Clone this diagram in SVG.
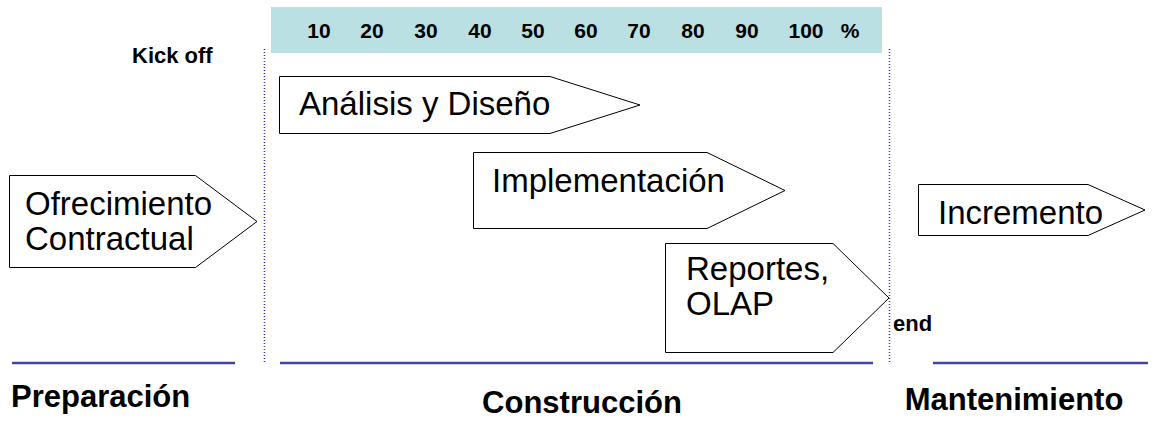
<svg xmlns="http://www.w3.org/2000/svg" width="1159" height="421" viewBox="0 0 1159 421">
<style>
.shape{fill:#ffffff;stroke:#000000;stroke-width:1}
.big{font-family:"Liberation Sans",Arial,sans-serif;font-size:33px;fill:#000}
.num{font-family:"Liberation Sans",Arial,sans-serif;font-size:21px;font-weight:bold;fill:#000;text-anchor:middle}
.small{font-family:"Liberation Sans",Arial,sans-serif;font-size:22px;font-weight:bold;fill:#000}
.phase{font-family:"Liberation Sans",Arial,sans-serif;font-size:31px;font-weight:bold;fill:#000}
.dot{stroke:#3a3ab8;stroke-width:1.5;stroke-dasharray:1 2;fill:none}
.rule{stroke:#4343a3;stroke-width:2.5;fill:none}
</style>
<rect width="1159" height="421" fill="#ffffff"/>
<g id="scale">
<rect x="271" y="7" width="611" height="46" fill="#bae0e3"/>
<text class="num" x="319" y="38">10</text>
<text class="num" x="372" y="38">20</text>
<text class="num" x="426" y="38">30</text>
<text class="num" x="480" y="38">40</text>
<text class="num" x="533" y="38">50</text>
<text class="num" x="586" y="38">60</text>
<text class="num" x="639" y="38">70</text>
<text class="num" x="693" y="38">80</text>
<text class="num" x="747" y="38">90</text>
<text class="num" x="806" y="38">100</text>
<text class="num" x="850" y="38">%</text>
</g>
<g id="connectors">
<line class="dot" x1="264.5" y1="49" x2="264.5" y2="362"/>
<line class="dot" x1="889.5" y1="49" x2="889.5" y2="362"/>
<line class="rule" x1="12" y1="363" x2="235" y2="363"/>
<line class="rule" x1="280" y1="363" x2="873" y2="363"/>
<line class="rule" x1="933" y1="363" x2="1148" y2="363"/>
</g>
<g id="kickoff"><text class="small" x="132" y="63">Kick off</text></g>
<g id="end"><text class="small" x="893" y="331" font-size="21">end</text></g>
<g id="ofrecimiento">
<polygon class="shape" points="9.5,175.5 195.5,175.5 257,221.5 195.5,267.5 9.5,267.5"/>
<text class="big" x="25" y="215">Ofrecimiento</text>
<text class="big" x="25" y="250">Contractual</text>
</g>
<g id="analisis">
<polygon class="shape" points="279.5,76.5 550,76.5 640,105 550,133.5 279.5,133.5"/>
<text class="big" x="299" y="115">Análisis y Diseño</text>
</g>
<g id="implementacion">
<polygon class="shape" points="473.5,152.5 707,152.5 785,190.5 707,228.5 473.5,228.5"/>
<text class="big" x="492" y="192">Implementación</text>
</g>
<g id="reportes">
<polygon class="shape" points="665.5,243.5 833,243.5 889,298 833,352.5 665.5,352.5"/>
<text class="big" x="686" y="280">Reportes,</text>
<text class="big" x="686" y="315">OLAP</text>
</g>
<g id="incremento">
<polygon class="shape" points="918.5,184.5 1088,184.5 1145,210 1088,235.5 918.5,235.5"/>
<text class="big" x="938" y="224">Incremento</text>
</g>
<g id="phases">
<text class="phase" x="11" y="407">Preparación</text>
<text class="phase" x="582" y="413" text-anchor="middle" font-size="33">Construcción</text>
<text class="phase" x="1014" y="410" text-anchor="middle" font-size="31">Mantenimiento</text>
</g>
</svg>
